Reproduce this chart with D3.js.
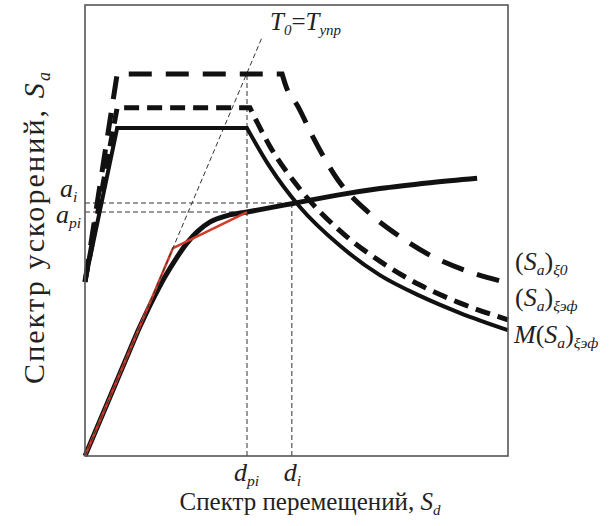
<!DOCTYPE html>
<html>
<head>
<meta charset="utf-8">
<script src="https://cdn.jsdelivr.net/npm/d3@7"></script>
<style>
  body { margin: 0; background: #fff; }
  text { font-family: "Liberation Serif", "Times New Roman", serif; fill: #222; }
</style>
</head>
<body>
<svg id="chart" width="612" height="526"></svg>
<script>
// values are relative units (Sd, Sa), 0..100 on both axes

// capacity curve of the structure (elastic part, then curved part)
var capacityElastic = [[0,0],[12.5,27.7]];
var capacity = [[12.5,27.7],[16.0,34.6],[19.0,39.9],[21.7,44.0],[24.1,47.2],[26.5,49.7],[29.6,51.9],
                [33.6,53.3],[38.3,54.1],[49.2,56.0],[60.0,57.9],[69.7,59.3],[81.6,60.6],[92.7,61.6]];
// bilinear idealisation (red)
var bilinear = [[0,0],[20.8,46.1],[38.3,54.1]];
// initial stiffness line T0 = Tупр
var initialStiff = [[0,0],[41.8,92.7]];

// (Sa)ξ0 spectrum
var spec0Rise = [[0,38.6],[7.6,84.7],[46.6,84.7]];
var spec0Fall = [[46.6,84.7],[47.5,82.0],[50.4,77.4],[53.9,70.7],[59.8,61.2],[66.9,54.1],
                 [74.5,48.6],[82.0,44.3],[91.0,40.8],[100,38.4]];
// (Sa)ξэф spectrum
var specEfRise = [[0,38.6],[7.6,77.2],[39.0,77.2]];
var specEfFall = [[39.0,77.2],[43.7,68.7],[50.8,59.2],[60.3,49.9],[69.7,43.2],[79.2,37.9],
                  [88.7,33.9],[100,30.2]];
// M(Sa)ξэф spectrum
var specMRise = [[0,38.6],[7.6,72.7],[38.3,72.7]];
var specMFall = [[38.3,72.7],[43.7,64.1],[50.8,55.2],[60.3,46.6],[69.7,40.1],[79.2,35.5],
                 [88.7,31.7],[100,27.9]];

// performance point markers
var dpi = 38.3, di = 48.9, api = 54.1, ai = 56.1, guideTop = 84.7;

var svg = d3.select("#chart"),
    margin = {top: 5, right: 104, bottom: 70, left: 85},
    width = +svg.attr("width") - margin.left - margin.right,
    height = +svg.attr("height") - margin.top - margin.bottom;

var x = d3.scaleLinear().domain([0, 100]).range([margin.left, margin.left + width]);
var y = d3.scaleLinear().domain([0, 100]).range([margin.top + height, margin.top]);

var straight = d3.line().x(d => x(d[0])).y(d => y(d[1]));
var smooth = d3.line().x(d => x(d[0])).y(d => y(d[1])).curve(d3.curveMonotoneX);

// straight part then smooth part, as one path
function joinedPath(lin, curve) {
  return straight(lin) + smooth(curve).replace(/^M/, "L");
}

// thin dashed guides
var guides = svg.append("g")
    .attr("fill", "none")
    .attr("stroke", "#333")
    .attr("stroke-width", 1)
    .attr("stroke-dasharray", "5,3");

guides.append("path").attr("d", straight([[dpi, 0], [dpi, guideTop]]));
guides.append("path").attr("d", straight([[di, 0], [di, ai]]));
guides.append("path").attr("d", straight([[0, api], [dpi, api]]));
guides.append("path").attr("d", straight([[0, ai], [di, ai]]));

// capacity curve
svg.append("path")
    .attr("d", joinedPath(capacityElastic, capacity))
    .attr("fill", "none")
    .attr("stroke", "#111")
    .attr("stroke-width", 5)
    .attr("stroke-linejoin", "round");

// bilinear
svg.append("path")
    .attr("d", straight(bilinear))
    .attr("fill", "none")
    .attr("stroke", "#d23a2a")
    .attr("stroke-width", 2.5);

// T0 line
svg.append("path")
    .attr("d", straight(initialStiff))
    .attr("fill", "none")
    .attr("stroke", "#333")
    .attr("stroke-width", 1)
    .attr("stroke-dasharray", "5,3");

// spectra
svg.append("path")
    .attr("d", joinedPath(spec0Rise, spec0Fall))
    .attr("fill", "none")
    .attr("stroke", "#111")
    .attr("stroke-width", 5)
    .attr("stroke-dasharray", "23,14");

svg.append("path")
    .attr("d", joinedPath(specEfRise, specEfFall))
    .attr("fill", "none")
    .attr("stroke", "#111")
    .attr("stroke-width", 5)
    .attr("stroke-dasharray", "15,8");

svg.append("path")
    .attr("d", joinedPath(specMRise, specMFall))
    .attr("fill", "none")
    .attr("stroke", "#111")
    .attr("stroke-width", 4);

// frame
svg.append("rect")
    .attr("x", x(0)).attr("y", y(100))
    .attr("width", x(100) - x(0)).attr("height", y(0) - y(100))
    .attr("fill", "none")
    .attr("stroke", "#555")
    .attr("stroke-width", 1.6);

// text with italic parts and subscripts
// parts: [text, italic?, sub?]
function label(px, py, parts, size, anchor) {
  var t = svg.append("text")
      .attr("x", px).attr("y", py)
      .attr("font-size", size)
      .attr("text-anchor", anchor || "start");
  var down = false;
  parts.forEach(function(p) {
    var s = t.append("tspan").text(p[0])
        .attr("font-style", p[1] ? "italic" : "normal");
    if (p[2]) {
      s.attr("font-size", size * 0.6);
      if (!down) { s.attr("dy", size * 0.2); down = true; }
    } else if (down) {
      s.attr("dy", -size * 0.2); down = false;
    }
  });
  return t;
}

label(270, 30, [["T", 1], ["0", 1, 1], ["=", 0], ["T", 1], ["упр", 1, 1]], 25);

label(60, y(ai) - 6, [["a", 1], ["i", 1, 1]], 26);
label(56, y(api) + 11, [["a", 1], ["pi", 1, 1]], 26);

label(x(dpi) - 13, 481, [["d", 1], ["pi", 1, 1]], 26);
label(x(di) - 8, 481, [["d", 1], ["i", 1, 1]], 26);

label(310, 510, [["Спектр перемещений, ", 0], ["S", 1], ["d", 1, 1]], 25, "middle");

label(0, 0, [["Спектр ускорений, ", 0], ["S", 1], ["a", 1, 1]], 30, "middle")
    .attr("textLength", 312)
    .attr("lengthAdjust", "spacing")
    .attr("transform", "translate(44,228) rotate(-90)");

label(515, 270, [["(", 0], ["S", 1], ["a", 1, 1], [")", 0], ["ξ0", 1, 1]], 26);
label(515, 306, [["(", 0], ["S", 1], ["a", 1, 1], [")", 0], ["ξэф", 1, 1]], 26);
label(514, 343, [["M", 1], ["(", 0], ["S", 1], ["a", 1, 1], [")", 0], ["ξэф", 1, 1]], 26);
</script>
</body>
</html>
